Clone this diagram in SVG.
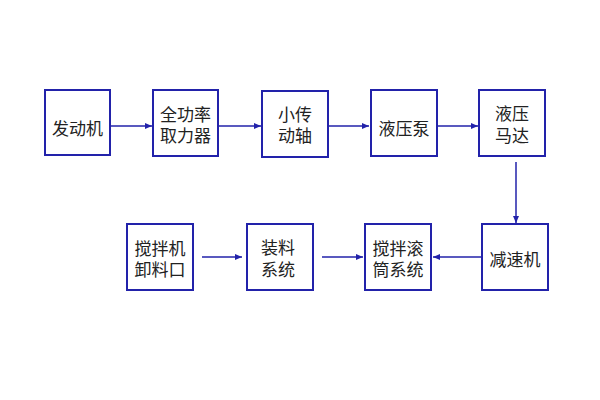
<svg xmlns="http://www.w3.org/2000/svg" width="600" height="400" viewBox="0 0 600 400">
<style>
.box{fill:#ffffff;stroke:#2222aa;stroke-width:2}
.t{font-family:"Noto Sans CJK SC","Noto Sans",sans-serif;font-size:17px;fill:#222;text-anchor:middle;dominant-baseline:central}
.c{stroke:#2222aa;stroke-width:1.5;fill:none;marker-end:url(#ah)}
</style>
<defs>
<marker id="ah" markerWidth="8" markerHeight="8" refX="7" refY="4" orient="auto" markerUnits="userSpaceOnUse">
<path d="M0,1 L7,4 L0,7 Z" fill="#2222aa"/>
</marker>
</defs>
<rect width="600" height="400" fill="#ffffff"/>
<g id="connectors">
<line class="c" x1="111" y1="126" x2="152" y2="126"/>
<line class="c" x1="219" y1="126" x2="261" y2="126"/>
<line class="c" x1="329" y1="126" x2="369" y2="126"/>
<line class="c" x1="437" y1="126" x2="478" y2="126"/>
<line class="c" x1="516" y1="162" x2="516" y2="223"/>
<line class="c" x1="202" y1="257" x2="242" y2="257"/>
<line class="c" x1="322" y1="257" x2="363" y2="257"/>
<line class="c" x1="482" y1="257" x2="433" y2="257"/>
</g>
<g id="n1"><rect class="box" x="45" y="90" width="65" height="65"/><text class="t" x="77.5" y="127">发动机</text></g>
<g id="n2"><rect class="box" x="153" y="90" width="65" height="66"/><text class="t" x="185.5" y="113">全功率</text><text class="t" x="185.5" y="134">取力器</text></g>
<g id="n3"><rect class="box" x="262" y="91" width="66" height="66"/><text class="t" x="295" y="113">小传</text><text class="t" x="295" y="134">动轴</text></g>
<g id="n4"><rect class="box" x="371" y="90" width="66" height="66"/><text class="t" x="404" y="127">液压泵</text></g>
<g id="n5"><rect class="box" x="479" y="90" width="66" height="66"/><text class="t" x="512" y="112">液压</text><text class="t" x="512" y="134">马达</text></g>
<g id="n6"><rect class="box" x="127" y="224" width="66" height="66"/><text class="t" x="160" y="247">搅拌机</text><text class="t" x="160" y="268">卸料口</text></g>
<g id="n7"><rect class="box" x="247" y="224" width="66" height="66"/><text class="t" x="278" y="246">装料</text><text class="t" x="278" y="268">系统</text></g>
<g id="n8"><rect class="box" x="365" y="224" width="66" height="66"/><text class="t" x="398" y="247">搅拌滚</text><text class="t" x="398" y="268">筒系统</text></g>
<g id="n9"><rect class="box" x="482" y="224" width="66" height="66"/><text class="t" x="515" y="258">减速机</text></g>
</svg>
